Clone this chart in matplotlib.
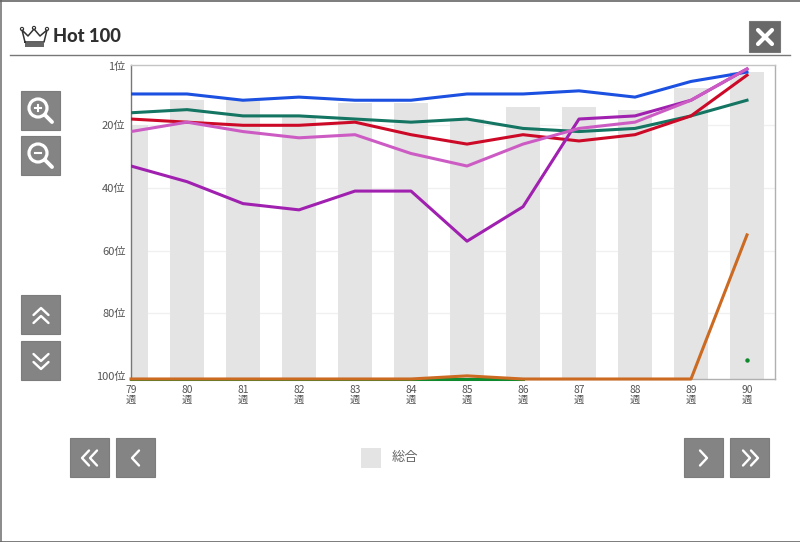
import matplotlib
matplotlib.use('Agg')
import matplotlib.pyplot as plt
from matplotlib.patches import Rectangle, Circle

plt.rcParams['font.family'] = ['Noto Sans CJK JP', 'DejaVu Sans']

nan = float('nan')

weeks = [79, 80, 81, 82, 83, 84, 85, 86, 87, 88, 89, 90]
week_labels = [str(w) + '\n週' for w in weeks]
rank_ticks = [1, 20, 40, 60, 80, 100]
rank_labels = ['1位', '20位', '40位', '60位', '80位', '100位']

overall = [20, 12, 12, 17, 13, 13, 18, 14, 14, 15, 8, 3]
blue = [10, 10, 12, 11, 12, 12, 10, 10, 9, 11, 6, 3]
teal = [16, 15, 17, 17, 18, 19, 18, 21, 22, 21, 17, 12]
red = [18, 19, 20, 20, 19, 23, 26, 23, 25, 23, 17, 4]
pink = [22, 19, 22, 24, 23, 29, 33, 26, 21, 19, 12, 2]
purple = [33, 38, 45, 47, 41, 41, 57, 46, 18, 17, 12, 2]
orange = [101, 101, 101, 101, 101, 101, 100, 101, 101, 101, 101, 55]
green = [101, 101, 101, 101, 101, 101, 101, 101, nan, nan, nan, 95]

W, H = 800, 542
fig = plt.figure(figsize=(W / 100, H / 100), dpi=100, facecolor='white')


def box(x0, y0, x1, y1):
    # pixel box, y from the top
    return [x0 / W, 1 - y1 / H, (x1 - x0) / W, (y1 - y0) / H]


# chart
ax = fig.add_axes(box(131, 65, 775, 379))
ax.set_xlim(79, 90.5)
ax.set_ylim(101, 0.75)

ax.hlines([20, 40, 60, 80], 79, 90.5, color='#f0f0f0', lw=1, zorder=0)
ax.bar(weeks, [101 - v for v in overall], bottom=overall, width=0.6, color='#e4e4e4', zorder=1)

ax.plot(weeks, green, color='#0e8a2c', lw=2.2, zorder=3, clip_on=False)
ax.plot(weeks[-1], green[-1], 'o', color='#0e8a2c', ms=2.2, zorder=3)
ax.plot(weeks, orange, color='#cc6a22', lw=2.2, zorder=4, clip_on=False)
ax.plot(weeks, teal, color='#147563', lw=2.2, zorder=5)
ax.plot(weeks, red, color='#cc0a28', lw=2.2, zorder=6)
ax.plot(weeks, blue, color='#1b50e0', lw=2.2, zorder=7)
ax.plot(weeks, purple, color='#a020b0', lw=2.2, zorder=8)
ax.plot(weeks, pink, color='#cc5cc4', lw=2.2, zorder=9)

ax.set_xticks(weeks)
ax.set_xticklabels(week_labels, fontsize=7.4, color='#555555', linespacing=1.0)
ax.set_yticks(rank_ticks)
ax.set_yticklabels(rank_labels, fontsize=8, color='#555555')
ax.tick_params(axis='both', length=0, pad=4)
ax.tick_params(axis='x', pad=4)
ax.spines['top'].set_color('#c4c4c4')
ax.spines['right'].set_color('#b0b0b0')
ax.spines['bottom'].set_color('#b0b0b0')
ax.spines['left'].set_color('#777777')
for s in ax.spines.values():
    s.set_linewidth(1)

# window chrome, drawn in pixel coordinates
top = fig.add_axes([0, 0, 1, 1], zorder=5)
top.set_xlim(0, W)
top.set_ylim(H, 0)
top.axis('off')
top.patch.set_alpha(0)

top.plot([0.5, 0.5], [0, H], color='#777777', lw=1.2)
top.plot([0, W], [0.5, 0.5], color='#666666', lw=1.2)
top.plot([0, W], [541.5, 541.5], color='#666666', lw=1.2)
top.plot([10, 790], [55, 55], color='#777777', lw=1)

top.text(53, 36, 'Hot 100', fontsize=13.2, fontweight='black', family='Lato',
         color='#2f2f2f', va='center', ha='left')

# crown
cx = [25, 22, 28, 34, 40, 47, 44]
cy = [42, 30, 36, 29, 36, 30, 42]
top.plot(cx + [25], cy + [42], color='#333333', lw=1.1, solid_joinstyle='round')
top.add_patch(Rectangle((25, 43), 19, 3.5, color='#666666', lw=0))
for px, py in [(22, 29), (34, 28), (47, 29)]:
    top.add_patch(Circle((px, py), 1.6, fc='white', ec='#333333', lw=0.8))


def button(x0, y0, x1, y1):
    top.add_patch(Rectangle((x0, y0), x1 - x0, y1 - y0, fc='#848484', ec='#7c7c7c', lw=0.8))


def chevron(x, y, way, w=7.5, h=7):
    # (x, y) is the tip of the arrow
    if way == 'up':
        xs, ys = [x - w, x, x + w], [y + h, y, y + h]
    elif way == 'down':
        xs, ys = [x - w, x, x + w], [y - h, y, y - h]
    elif way == 'left':
        xs, ys = [x + h, x, x + h], [y - w, y, y + w]
    else:
        xs, ys = [x - h, x, x - h], [y - w, y, y + w]
    top.plot(xs, ys, color='white', lw=1.7, solid_capstyle='round')


def magnifier(cx, cy, plus):
    top.add_patch(Circle((cx, cy), 9, fc='none', ec='white', lw=2.3))
    top.plot([cx + 7, cx + 14], [cy + 7, cy + 14], color='white', lw=2.8, solid_capstyle='round')
    top.plot([cx - 3, cx + 3], [cy, cy], color='white', lw=1.5)
    if plus:
        top.plot([cx, cx], [cy - 3, cy + 3], color='white', lw=1.5)


button(21, 91, 60, 130)
magnifier(38, 108, True)
button(21, 136, 60, 175)
magnifier(38, 153, False)

button(21, 295, 60, 334)
chevron(41, 308, 'up')
chevron(41, 316, 'up')
button(21, 341, 60, 380)
chevron(41, 361, 'down')
chevron(41, 369, 'down')

button(70, 438, 109, 477)
chevron(82, 458, 'left')
chevron(90, 458, 'left')
button(116, 438, 155, 477)
chevron(132, 458, 'left')
button(684, 438, 723, 477)
chevron(707, 458, 'right')
button(730, 438, 769, 477)
chevron(750, 458, 'right')
chevron(758, 458, 'right')

# close
top.add_patch(Rectangle((749, 21), 31, 31, fc='#696969', ec='#777777', lw=0.8))
top.plot([758, 772], [30, 44], color='white', lw=3, solid_capstyle='round')
top.plot([758, 772], [44, 30], color='white', lw=3, solid_capstyle='round')

# legend
top.add_patch(Rectangle((361, 448), 20, 20, color='#e4e4e4', lw=0))
top.text(392, 457, '総合', fontsize=9.5, color='#666666', va='center', ha='left')

fig.savefig('out.png', dpi=100)
